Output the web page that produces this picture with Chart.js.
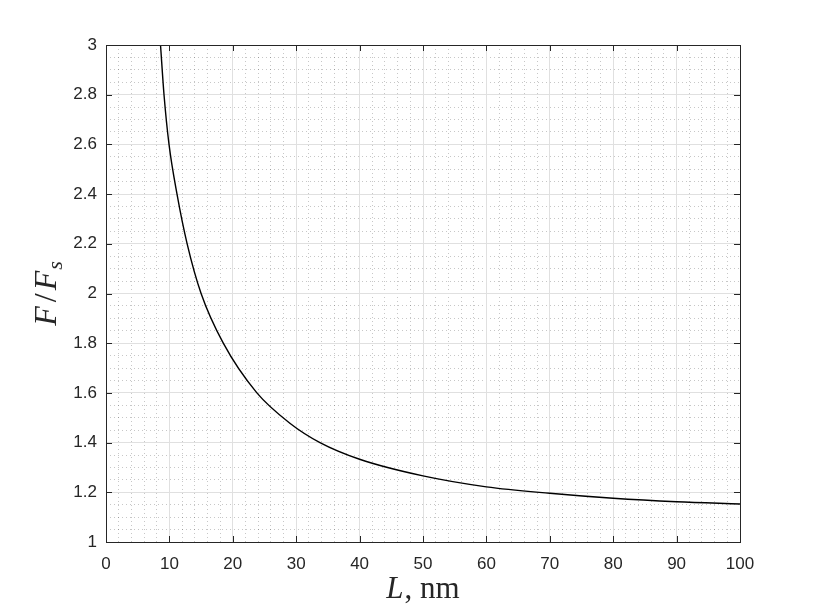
<!DOCTYPE html>
<html>
<head>
<meta charset="utf-8">
<script src="https://cdn.jsdelivr.net/npm/chart.js@4.4.1/dist/chart.umd.min.js"></script>
<style>
  html, body { margin: 0; padding: 0; background: #fff; }
  canvas { display: block; }
</style>
</head>
<body>
<canvas id="myCanvas" width="817" height="613"></canvas>
<script>
// values
var lengthNm = [8.6, 9.15, 9.94, 11.2, 12.8, 15.0, 18.5, 23.8, 29, 33.75, 40, 50, 60, 70, 80, 90, 100];
var forceRatio = [3.0, 2.8, 2.6, 2.4, 2.2, 2.0, 1.8, 1.6, 1.478, 1.4, 1.333, 1.266, 1.222, 1.196, 1.176, 1.162, 1.153];

var xRange = [0, 100];
var yRange = [1, 3];
var xMajorStep = 10, xMinorStep = 2;
var yMajorStep = 0.2, yMinorStep = 0.05;

var textColor = '#262626';
var tickFont = { family: 'Liberation Sans, Arial, sans-serif', size: 17 };
var serif = 'Liberation Serif, Times New Roman, serif';

// draw a list of text runs centred on (0,0), baseline at y=0
function drawRuns(ctx, runs) {
    var total = 0;
    runs.forEach(function (r) {
        ctx.font = r.font;
        r.w = ctx.measureText(r.text).width;
        total += r.w + (r.gap || 0);
    });
    var x = -total / 2;
    ctx.textAlign = 'left';
    ctx.textBaseline = 'alphabetic';
    runs.forEach(function (r) {
        x += (r.gap || 0);
        ctx.font = r.font;
        ctx.fillText(r.text, x, r.dy || 0);
        x += r.w;
    });
}

// box, inward ticks and math-style axis labels, like the matlab figure
var boxPlugin = {
    id: 'boxPlugin',
    afterDraw: function (chart) {
        var ctx = chart.ctx;
        var a = chart.chartArea;
        var xs = chart.scales.x, ys = chart.scales.y;
        var len = 6;
        ctx.save();
        ctx.strokeStyle = textColor;
        ctx.lineWidth = 1;
        ctx.beginPath();
        xs.ticks.forEach(function (t) {
            var px = Math.round(xs.getPixelForValue(t.value)) + 0.5;
            ctx.moveTo(px, a.bottom); ctx.lineTo(px, a.bottom - len);
            ctx.moveTo(px, a.top); ctx.lineTo(px, a.top + len);
        });
        ys.ticks.forEach(function (t) {
            var py = Math.round(ys.getPixelForValue(t.value)) + 0.5;
            ctx.moveTo(a.left, py); ctx.lineTo(a.left + len, py);
            ctx.moveTo(a.right, py); ctx.lineTo(a.right - len, py);
        });
        ctx.stroke();
        ctx.strokeRect(Math.round(a.left) + 0.5, Math.round(a.top) + 0.5,
            Math.round(a.right - a.left), Math.round(a.bottom - a.top));

        ctx.fillStyle = textColor;
        // x label: L, nm
        ctx.save();
        ctx.translate((a.left + a.right) / 2, 598);
        drawRuns(ctx, [
            { text: 'L', font: 'italic 31px ' + serif },
            { text: ', nm', font: '31px ' + serif, gap: 1 }
        ]);
        ctx.restore();
        // y label: F/F_s
        ctx.save();
        ctx.translate(56, (a.top + a.bottom) / 2);
        ctx.rotate(-Math.PI / 2);
        drawRuns(ctx, [
            { text: 'F', font: 'italic 32px ' + serif },
            { text: '/', font: '32px ' + serif, gap: 4 },
            { text: 'F', font: 'italic 32px ' + serif, gap: 3 },
            { text: 's', font: 'italic 22px ' + serif, gap: 1, dy: 6 }
        ]);
        ctx.restore();
        ctx.restore();
    }
};

var points = lengthNm.map(function (l, i) { return { x: l, y: forceRatio[i] }; });

var ctx = document.getElementById('myCanvas').getContext('2d');
var myChart = new Chart(ctx, {
    type: 'line',
    data: {
        datasets: [{
            data: points,
            borderColor: '#000',
            borderWidth: 1.4,
            pointRadius: 0,
            fill: false,
            cubicInterpolationMode: 'monotone'
        }]
    },
    options: {
        responsive: false,
        animation: false,
        devicePixelRatio: 1,
        layout: { padding: { left: 0, right: 77, top: 45, bottom: 0 } },
        plugins: { legend: { display: false }, tooltip: { enabled: false } },
        scales: {
            xMinor: {
                type: 'linear', position: 'bottom', min: xRange[0], max: xRange[1],
                ticks: { display: false, stepSize: xMinorStep, maxTicksLimit: 1000 },
                grid: { color: 'rgba(0,0,0,0.22)', drawTicks: false, z: -2 },
                border: { display: false, dash: [1, 3] },
                afterFit: function (s) { s.height = 0; }
            },
            yMinor: {
                type: 'linear', position: 'left', min: yRange[0], max: yRange[1],
                ticks: { display: false, stepSize: yMinorStep, maxTicksLimit: 1000 },
                grid: { color: 'rgba(0,0,0,0.22)', drawTicks: false, z: -2 },
                border: { display: false, dash: [1, 3] },
                afterFit: function (s) { s.width = 0; }
            },
            x: {
                type: 'linear', position: 'bottom', min: xRange[0], max: xRange[1],
                ticks: { stepSize: xMajorStep, color: textColor, font: tickFont, padding: 12, maxRotation: 0 },
                grid: { color: '#e0e0e0', drawTicks: false, z: -1 },
                border: { display: false },
                afterFit: function (s) { s.height = 71; }
            },
            y: {
                type: 'linear', position: 'left', min: yRange[0], max: yRange[1],
                ticks: {
                    stepSize: yMajorStep, color: textColor, font: tickFont, padding: 9,
                    callback: function (v) { return String(Math.round(v * 10) / 10); }
                },
                grid: { color: '#e0e0e0', drawTicks: false, z: -1 },
                border: { display: false },
                afterFit: function (s) { s.width = 106; }
            }
        }
    },
    plugins: [boxPlugin]
});
</script>
</body>
</html>
